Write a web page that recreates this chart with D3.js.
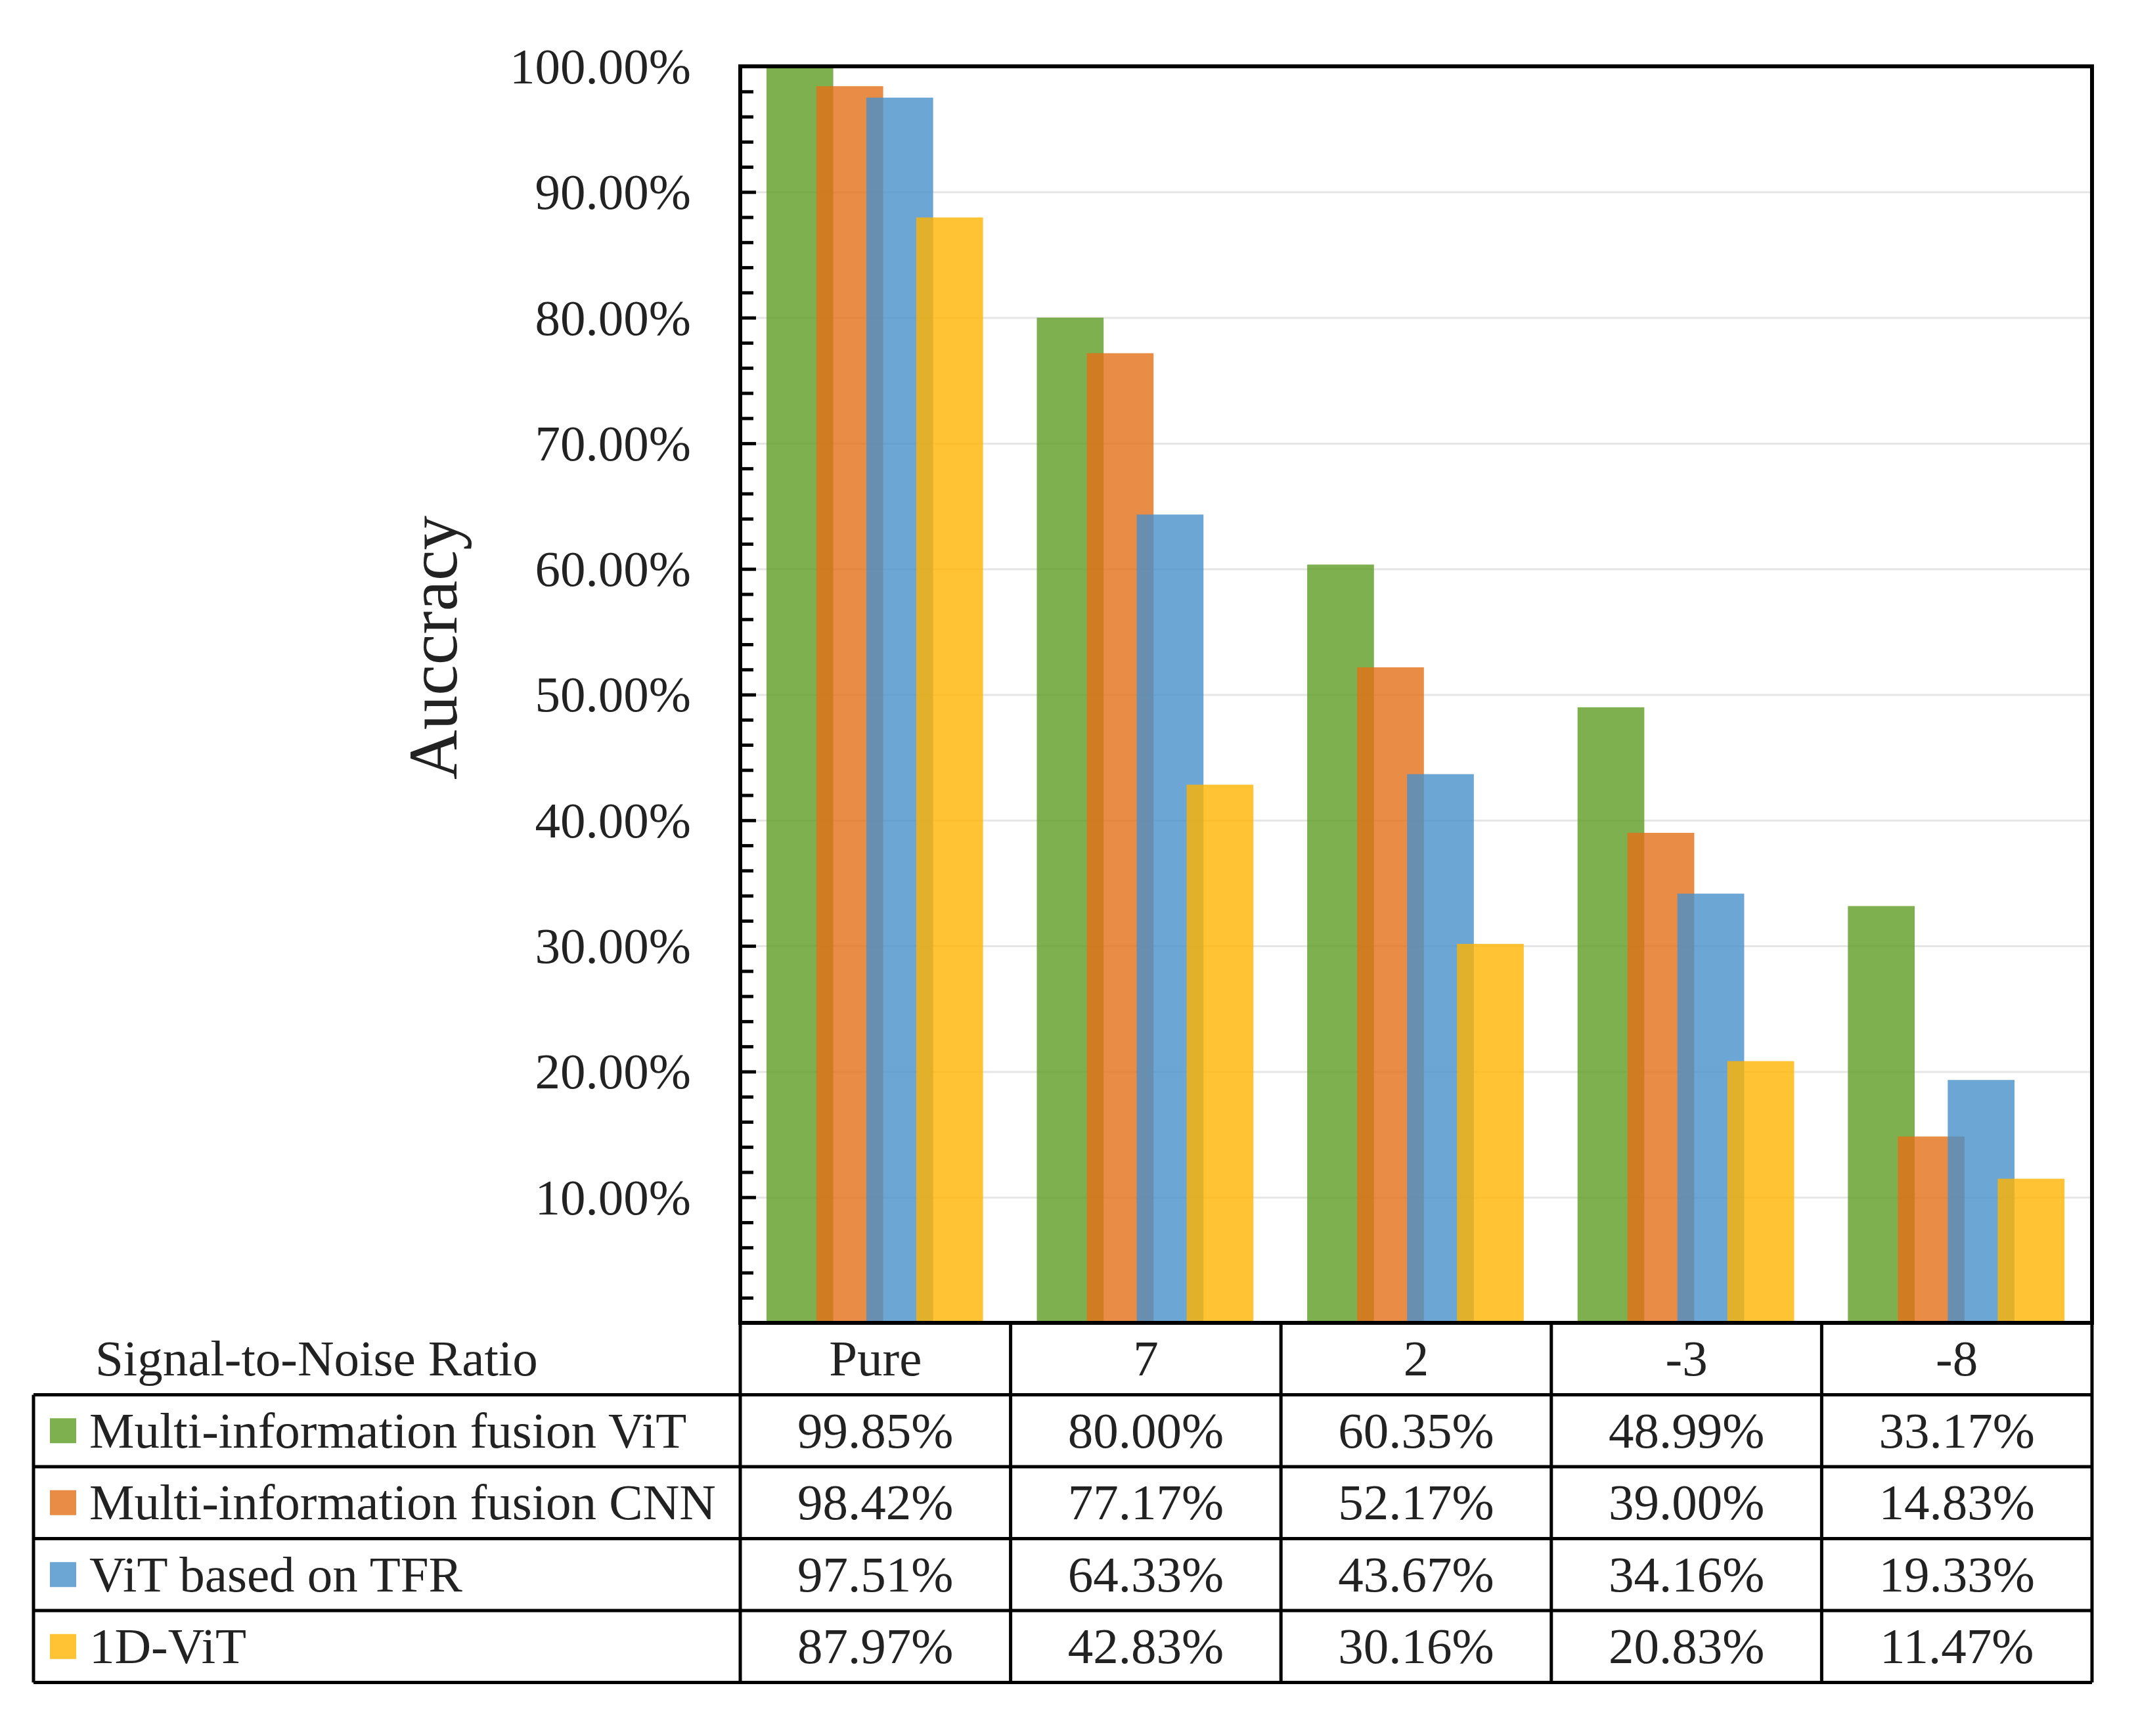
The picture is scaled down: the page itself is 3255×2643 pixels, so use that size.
<!DOCTYPE html>
<html lang="en">
<head>
    <meta charset="UTF-8">
    <title>Accuracy vs SNR</title>
    <script src="https://d3js.org/d3.v7.min.js"></script>
    <style>
        body { margin: 0; background: #fff; }
        text { font-family: "Liberation Serif", "Times New Roman", serif; fill: #222; }
    </style>
</head>
<body>
<div id="chart"></div>
<script>
    let categories = ["Pure", "7", "2", "-3", "-8"];
    let seriesNames = ["Multi-information fusion ViT", "Multi-information fusion CNN", "ViT based on TFR", "1D-ViT"];
    let vitFusion = [99.85, 80.00, 60.35, 48.99, 33.17];
    let cnnFusion = [98.42, 77.17, 52.17, 39.00, 14.83];
    let vitTfr = [97.51, 64.33, 43.67, 34.16, 19.33];
    let vit1d = [87.97, 42.83, 30.16, 20.83, 11.47];
    let seriesColors = ["#5e9c24", "#e36f18", "#4790cb", "#ffb400"];
    let majorTicks = [10, 20, 30, 40, 50, 60, 70, 80, 90, 100];

    let values = [vitFusion, cnnFusion, vitTfr, vit1d];

    let W = 3255, H = 2643;
    let plot = {left: 1127, right: 3185, top: 101, bottom: 2014};
    let tableLeft = 51;
    let rowH = 109.5;
    let barOpacity = 0.8;

    let svg = d3.select("#chart").append("svg")
        .attr("width", W)
        .attr("height", H);

    let x0 = d3.scaleBand()
        .domain(categories)
        .range([plot.left, plot.right])
        .padding(0);
    let bw = x0.bandwidth();
    let barW = bw * 0.247;
    let x1 = d3.scalePoint()
        .domain(seriesNames)
        .range([bw * 0.097, bw * 0.097 + 3 * bw * 0.1847]);

    let y = d3.scaleLinear().domain([0, 100]).range([plot.bottom, plot.top]);

    // grid lines
    svg.append("g")
        .attr("transform", `translate(${plot.left},0)`)
        .call(d3.axisLeft(y).tickValues(majorTicks.slice(0, -1)).tickSize(-(plot.right - plot.left)).tickFormat(""))
        .call(g => g.select(".domain").remove())
        .call(g => g.selectAll("line").attr("stroke", "#e6e6e6").attr("stroke-width", 3));

    // bars
    let flat = [];
    values.forEach((vals, s) => vals.forEach((v, c) => flat.push({s: s, c: c, v: v})));
    svg.append("g").selectAll("rect")
        .data(flat)
        .enter()
        .append("rect")
        .attr("x", d => x0(categories[d.c]) + x1(seriesNames[d.s]))
        .attr("y", d => y(d.v))
        .attr("width", barW)
        .attr("height", d => y(0) - y(d.v))
        .attr("fill", d => seriesColors[d.s])
        .attr("fill-opacity", barOpacity);

    // minor ticks
    svg.append("g")
        .attr("transform", `translate(${plot.left},0)`)
        .call(d3.axisLeft(y).tickValues(d3.range(2, 100, 2).filter(v => v % 10 !== 0)).tickSize(-20).tickFormat(""))
        .call(g => g.select(".domain").remove())
        .call(g => g.selectAll("line").attr("stroke", "#000").attr("stroke-width", 5));

    // major ticks + labels
    svg.append("g")
        .attr("transform", `translate(${plot.left},0)`)
        .call(d3.axisLeft(y).tickValues(majorTicks).tickSize(-24).tickPadding(75).tickFormat(d => d.toFixed(2) + "%"))
        .call(g => g.select(".domain").remove())
        .call(g => g.selectAll("line").attr("stroke", "#000").attr("stroke-width", 5))
        .call(g => g.selectAll("text")
            .attr("font-size", 77)
            .attr("x", -75)
            .attr("dy", "0.33em")
            .attr("fill", "#222"));

    // frame
    svg.append("rect")
        .attr("x", plot.left)
        .attr("y", plot.top)
        .attr("width", plot.right - plot.left)
        .attr("height", plot.bottom - plot.top)
        .attr("fill", "none")
        .attr("stroke", "#000")
        .attr("stroke-width", 6);

    // y label
    svg.append("text")
        .attr("transform", "translate(695,986) rotate(-90)")
        .attr("text-anchor", "middle")
        .attr("font-size", 105)
        .text("Auccracy");

    // data table
    let table = svg.append("g");
    let rowY = i => plot.bottom + rowH * i;
    let nRows = seriesNames.length + 1;

    // horizontal lines
    table.append("line")
        .attr("x1", plot.left).attr("x2", plot.right)
        .attr("y1", rowY(0)).attr("y2", rowY(0));
    d3.range(1, nRows + 1).forEach(i => {
        table.append("line")
            .attr("x1", tableLeft).attr("x2", plot.right)
            .attr("y1", rowY(i)).attr("y2", rowY(i));
    });
    // vertical lines
    categories.forEach(c => {
        table.append("line")
            .attr("x1", x0(c)).attr("x2", x0(c))
            .attr("y1", rowY(0)).attr("y2", rowY(nRows));
    });
    table.append("line")
        .attr("x1", plot.right).attr("x2", plot.right)
        .attr("y1", rowY(0)).attr("y2", rowY(nRows));
    table.append("line")
        .attr("x1", tableLeft).attr("x2", tableLeft)
        .attr("y1", rowY(1)).attr("y2", rowY(nRows));
    table.selectAll("line").attr("stroke", "#000").attr("stroke-width", 5);

    // header
    table.append("text")
        .attr("x", 145)
        .attr("y", rowY(0.5))
        .attr("dy", "0.33em")
        .attr("font-size", 77)
        .text("Signal-to-Noise Ratio");
    table.selectAll("text.head")
        .data(categories)
        .enter()
        .append("text")
        .attr("class", "head")
        .attr("x", d => x0(d) + bw / 2)
        .attr("y", rowY(0.5))
        .attr("dy", "0.33em")
        .attr("text-anchor", "middle")
        .attr("font-size", 77)
        .text(d => d);

    // series rows
    seriesNames.forEach((name, s) => {
        let cy = rowY(s + 1.5);
        table.append("rect")
            .attr("x", 76)
            .attr("y", cy - 19)
            .attr("width", 40)
            .attr("height", 38)
            .attr("fill", seriesColors[s])
            .attr("fill-opacity", barOpacity);
        table.append("text")
            .attr("x", 136)
            .attr("y", cy)
            .attr("dy", "0.33em")
            .attr("font-size", 77)
            .text(name);
        table.selectAll("text.v" + s)
            .data(values[s])
            .enter()
            .append("text")
            .attr("class", "v" + s)
            .attr("x", (d, c) => x0(categories[c]) + bw / 2)
            .attr("y", cy)
            .attr("dy", "0.33em")
            .attr("text-anchor", "middle")
            .attr("font-size", 77)
            .text(d => d.toFixed(2) + "%");
    });
</script>
</body>
</html>
